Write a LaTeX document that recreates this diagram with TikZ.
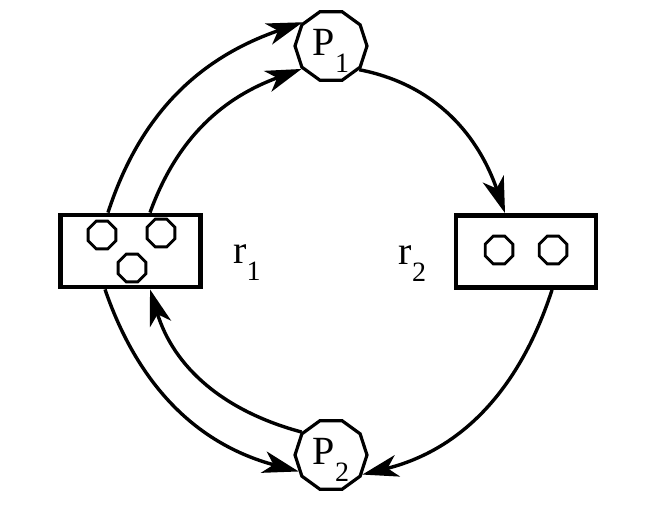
\documentclass[tikz,border=0pt]{standalone}
\usepackage{fontspec}
\setmainfont{Liberation Serif}
\usetikzlibrary{arrows.meta, positioning, shapes.geometric}
\newcommand{\withsub}[2]{#1\raisebox{-8.5pt}[0pt][4pt]{\fontsize{14}{14}\selectfont #2}}

\begin{document}
\begin{tikzpicture}[
    x=0.5pt, y=0.5pt,
    font=\fontsize{20}{23}\selectfont,
    proc/.style={regular polygon, regular polygon sides=10, draw,
                 line width=1.6pt, minimum size=36pt, inner sep=0pt},
    res/.style={rectangle, draw, line width=2.4pt,
                minimum width=70pt, minimum height=36pt},
    tok/.style={regular polygon, regular polygon sides=8, draw,
                line width=1.4pt, minimum size=15pt, inner sep=0pt},
    lbl/.style={inner sep=0pt},
    arr/.style={-{Stealth[length=18pt, width=11pt, inset=5pt]}, line width=1.7pt},
    node distance=15pt
  ]
  \useasboundingbox (0,0) rectangle (667,507);

  \node[proc] (P1) at (331,461) {\withsub{P}{1}};
  \node[proc] (P2) at (331,52)  {\withsub{P}{2}};
  \node[res]  (r1) at (130.5,256) {};
  \node[res]  (r2) at (526,255.5) {};

  \node[lbl, right=15pt of r1, yshift=-3.6pt] (r1l) {\withsub{r}{1}};
  \node[lbl, left=13.5pt of r2, yshift=-3.6pt] (r2l) {\withsub{r}{2}};

  % tokens
  \node[tok] (t1) at (102,272) {};
  \node[tok] (t2) at (161,274) {};
  \node[tok] (t3) at (132,239) {};
  \node[tok] (t4) at (499,257) {};
  \node[tok] (t5) at (553,257) {};

  \coordinate (r1a) at ([xshift=-11.25pt]r1.north);
  \coordinate (r1b) at ([xshift=9.75pt]r1.north);
  \coordinate (r1c) at ([xshift=-12.75pt]r1.south);
  \coordinate (r1d) at ([xshift=9.75pt]r1.south);
  \coordinate (r2a) at ([xshift=-10.5pt]r2.north);
  \coordinate (r2b) at ([xshift=13pt]r2.south);

  \foreach \a/\b/\o/\i in {r1a/P1.140/72/199, r1b/P1.218/70/200,
                           P1.-40/r2a/-11/109, r2b/P2.-32/252/14,
                           r1c/P2.207/-71/165, P2.142/r1d/165/287}
    \draw[arr] (\a) to[out=\o, in=\i] (\b);

\end{tikzpicture}
\end{document}
